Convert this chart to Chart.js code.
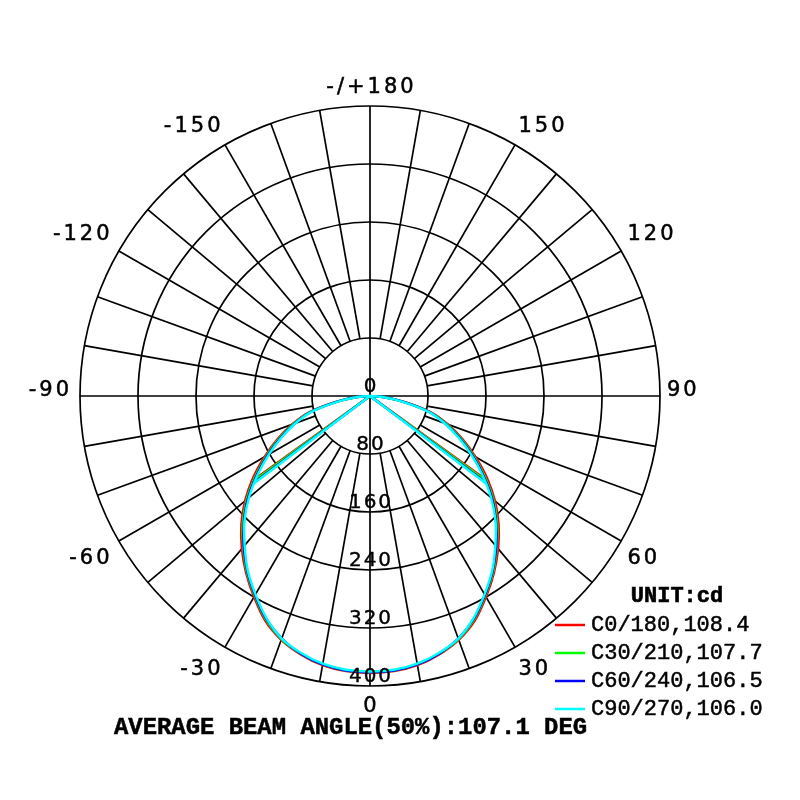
<!DOCTYPE html>
<html><head><meta charset="utf-8">
<script src="https://cdn.jsdelivr.net/npm/chart.js@4.4.1/dist/chart.umd.min.js"></script>
<style>html,body{margin:0;padding:0;background:#fff}canvas{display:block}</style>
</head><body>
<canvas id="c" width="800" height="800"></canvas>
<script>
// ---------- data ----------
const gammaAngles = [-90,-85,-80,-75,-70,-65,-60,-55,-50,-45,-40,-35,-30,-25,-20,-15,-10,-5,0,5,10,15,20,25,30,35,40,45,50,55,60,65,70,75,80,85,90];
const seriesLabels = ['C0/180,108.4','C30/210,107.7','C60/240,106.5','C90/270,106.0'];
const seriesColors = ['#ff0000','#00ff00','#0000ff','#00ffff'];
const beamAngles = [108.4,107.7,106.5,106.0];
const c0_180  = [0,21,49,87,114,141,168,197,225,251,275,298,320,342,358,369,377,381,382,381,377,369,358,342,320,298,275,251,225,197,168,141,114,87,49,21,0];
const c30_210 = [0,20,48,85,112,138,165,193,222,248,272,296,318,340,357,368,376,380,381,380,376,368,357,340,318,296,272,248,222,193,165,138,112,85,48,20,0];
const c60_240 = [0,20,47,84,110,136,163,191,220,246,271,295,317,339,356,368,376,380,381,380,376,368,356,339,317,295,271,246,220,191,163,136,110,84,47,20,0];
const c90_270 = [0,19,46,83,109,134,161,189,218,245,269,294,316,338,356,367,375,379,380,379,375,367,356,338,316,294,269,245,218,189,161,134,109,83,46,19,0];
const seriesValues = [c0_180, c30_210, c60_240, c90_270];
const ringValues = [80,160,240,320,400];
const ringLabelValues = [0,80,160,240,320,400];
const ringLabels = ['0','80','160','240','320','400'];
const spokeAngles = [];
for (let a = -170; a <= 180; a += 10) spokeAngles.push(a);
const axisAngles = [0,90,180,-90];
const angleTickValues = [180,150,120,90,60,30,0,-30,-60,-90,-120,-150];
const angleTickLabels = ['-/+180','150','120','90','60','30','0','-30','-60','-90','-120','-150'];
const unitText = 'UNIT:cd';
const footerText = 'AVERAGE BEAM ANGLE(50%):107.1 DEG';

// ---------- helpers ----------
const rad = d => d * Math.PI / 180;
function toXY(angle, I){ return {x: I*Math.sin(rad(angle)), y: -I*Math.cos(rad(angle))}; }
function interp(vals, a){
  for (let i=0;i<gammaAngles.length-1;i++){
    const a0=gammaAngles[i], a1=gammaAngles[i+1];
    if (a>=a0 && a<=a1){ const t=(a-a0)/(a1-a0); return vals[i]+(vals[i+1]-vals[i])*t; }
  }
  return 0;
}

const datasets = [];
seriesValues.forEach((vals, k) => {
  datasets.push({
    label: seriesLabels[k],
    data: gammaAngles.map((a,i)=>toXY(a, vals[i])),
    borderColor: seriesColors[k], borderWidth: 2.4, showLine: true,
    pointRadius: 0, tension: 0.3, fill: false, order: 3-k
  });
  const h = beamAngles[k]/2;
  datasets.push({
    label: seriesLabels[k] + ' beam',
    data: [toXY(h, interp(vals, h)), {x:0,y:0}, toXY(-h, interp(vals, -h))],
    borderColor: seriesColors[k], borderWidth: 2.4, showLine: true,
    pointRadius: 0, tension: 0, fill: false, order: 3-k
  });
});

function geom(chart){
  const xs = chart.scales.x, ys = chart.scales.y;
  const cx = xs.getPixelForValue(0), cy = ys.getPixelForValue(0);
  const rPx = v => xs.getPixelForValue(v) - cx;
  return {cx, cy, rPx};
}

const gridPlugin = {
  id: 'polarGrid',
  beforeDatasetsDraw(chart){
    const ctx = chart.ctx; const {cx, cy, rPx} = geom(chart);
    ctx.save();
    ctx.strokeStyle = '#000'; ctx.lineWidth = 1.7;
    ringValues.forEach(v => { ctx.beginPath(); ctx.arc(cx, cy, rPx(v), 0, Math.PI*2); ctx.stroke(); });
    const rIn = rPx(ringValues[0]), rOut = rPx(ringValues[ringValues.length-1]);
    spokeAngles.forEach(a => {
      const isAxis = axisAngles.includes(a);
      const r0 = isAxis ? 0 : rIn;
      const s = Math.sin(rad(a)), c = Math.cos(rad(a));
      ctx.beginPath();
      ctx.moveTo(cx + r0*s, cy + r0*c);
      ctx.lineTo(cx + rOut*s, cy + rOut*c);
      ctx.stroke();
    });
    ctx.restore();
  }
};

function drawBold(ctx, t, x, y, sw){
  ctx.fillText(t, x, y);
  if (sw > 0){ ctx.lineWidth = sw; ctx.strokeStyle = ctx.fillStyle; ctx.strokeText(t, x, y); }
}

const textPlugin = {
  id: 'polarText',
  afterDatasetsDraw(chart){
    const ctx = chart.ctx; const {cx, cy, rPx} = geom(chart);
    const rOut = rPx(ringValues[ringValues.length-1]);
    ctx.save();
    ctx.fillStyle = '#000';
    // angle labels: anchored at a point just outside the outer ring
    const fs = 21, ls = 3;
    ctx.font = fs + 'px "DejaVu Sans"';
    ctx.letterSpacing = ls + 'px';
    ctx.textAlign = 'left'; ctx.textBaseline = 'alphabetic';
    const R = rOut + 13;
    angleTickValues.forEach((a, i) => {
      const t = angleTickLabels[i];
      const w = ctx.measureText(t).width - ls;
      const s = Math.sin(rad(a)), c = Math.cos(rad(a));
      const ax = cx + R*s, ay = cy + R*c;
      let x;
      if (s > 0.01) x = ax - 2 - 4*s*s;
      else if (s < -0.01) x = ax - w + 2;
      else x = ax - w/2;
      let y;
      if (Math.abs(c) < 0.01) y = cy;
      else if (c > 0.99) y = ay + 0.73*fs - 2;
      else if (c > 0.01) y = ay + 0.73*fs + 1;   // lower half: top aligned
      else y = ay - 6*s*s;                      // upper half: bottom aligned
      drawBold(ctx, t, x, y, 0.5);
    });
    // ring labels
    ctx.font = '20px "DejaVu Sans"';
    ctx.letterSpacing = '2px';
    ctx.textBaseline = 'alphabetic';
    ringLabelValues.forEach((v, i) => {
      const t = ringLabels[i];
      const w = ctx.measureText(t).width - 2;
      drawBold(ctx, t, cx - w/2, cy + rPx(v) - 4, 0.4);
    });
    // legend
    ctx.letterSpacing = '0px';
    ctx.font = 'bold 22px "Liberation Mono"';
    ctx.textAlign = 'center';
    ctx.textBaseline = 'middle';
    drawBold(ctx, unitText, 677, 596, 0.6);
    ctx.font = '22px "Liberation Mono"';
    ctx.textAlign = 'left';
    seriesLabels.forEach((l, k) => {
      const y = 625 + k*28;
      ctx.strokeStyle = seriesColors[k]; ctx.lineWidth = 2.5;
      ctx.beginPath(); ctx.moveTo(555, y); ctx.lineTo(585, y); ctx.stroke();
      ctx.fillStyle = '#000';
      drawBold(ctx, l, 591, y, 0.5);
    });
    // footer
    ctx.font = 'bold 23.9px "Liberation Mono"';
    drawBold(ctx, footerText, 114, 728, 0.5);
    ctx.restore();
  }
};

new Chart(document.getElementById('c'), {
  type: 'scatter',
  data: { datasets },
  options: {
    responsive: false, animation: false,
    layout: { padding: { left: 80, right: 140, top: 106, bottom: 114 } },
    scales: {
      x: { type: 'linear', min: -400, max: 400, display: false },
      y: { type: 'linear', min: -400, max: 400, display: false }
    },
    plugins: { legend: { display: false }, tooltip: { enabled: false } },
    elements: { line: { borderCapStyle: 'round', borderJoinStyle: 'round' } }
  },
  plugins: [gridPlugin, textPlugin]
});
</script>
</body></html>
